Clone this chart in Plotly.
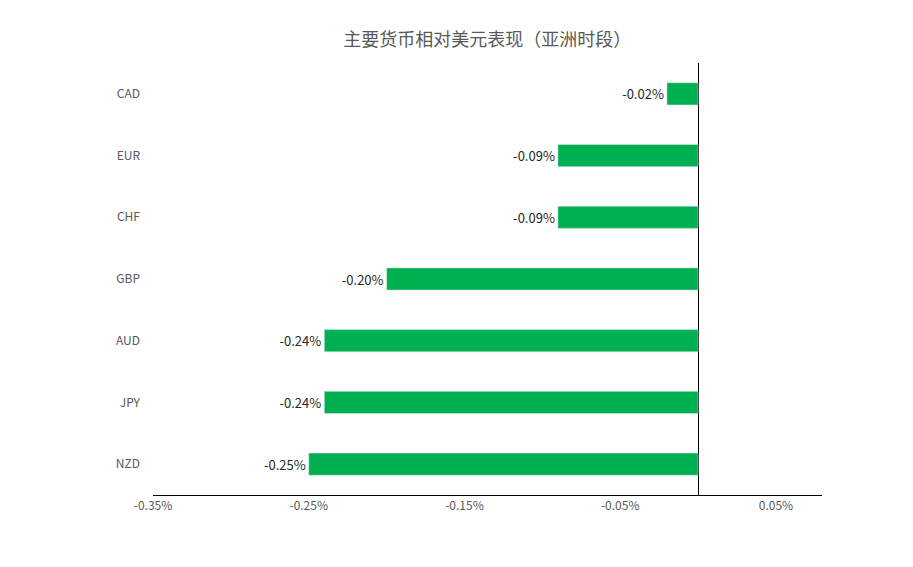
import plotly.graph_objects as go

categories = ["NZD", "JPY", "AUD", "GBP", "CHF", "EUR", "CAD"]
values = [-0.25, -0.24, -0.24, -0.20, -0.09, -0.09, -0.02]
labels = ["-0.25%", "-0.24%", "-0.24%", "-0.20%", "-0.09%", "-0.09%", "-0.02%"]
tick_vals = [-0.35, -0.25, -0.15, -0.05, 0.05]
tick_text = ["-0.35%", "-0.25%", "-0.15%", "-0.05%", "0.05%"]

fig = go.Figure(go.Bar(
    y=categories, x=values, orientation="h",
    marker_color="#00B050", text=labels, textposition="outside",
    textfont=dict(size=13, color="#262626"), cliponaxis=False,
))
fig.update_layout(
    width=913, height=567, plot_bgcolor="white", paper_bgcolor="white",
    margin=dict(l=145, r=99, t=55, b=80),
    bargap=0.64, showlegend=False,
    font=dict(family="Noto Sans CJK SC, Liberation Sans", size=12, color="#595959"),
    title=dict(text="主要货币相对美元表现（亚洲时段）", x=0.525, xanchor="center", y=0.955,
               font=dict(size=18, color="#595959")),
)
fig.update_xaxes(range=[-0.35, 0.0796], tickvals=tick_vals, ticktext=tick_text,
                 showgrid=False, zeroline=True, zerolinecolor="black", zerolinewidth=1,
                 showline=True, linecolor="black", ticks="", tickfont=dict(size=12, color="#595959"))
fig.update_yaxes(showgrid=False, ticks="", ticklabelstandoff=12,
                 tickfont=dict(size=12, color="#595959"))
fig.write_html("out.html")
